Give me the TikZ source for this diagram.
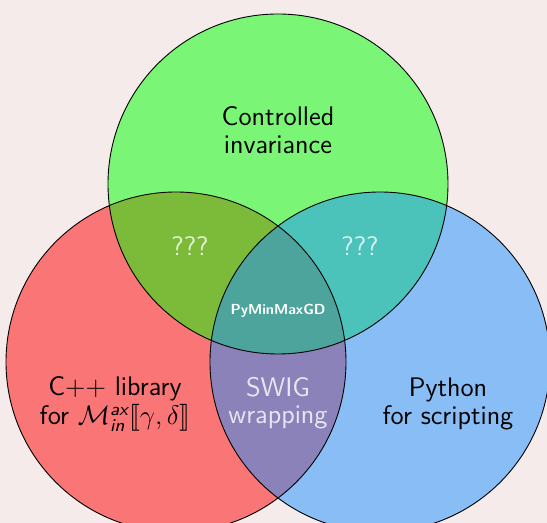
\documentclass[tikz,border=0pt]{standalone}
\usepackage{amsmath, amssymb}
\usepackage{stmaryrd}
\usepackage{tikz}
\renewcommand{\familydefault}{\sfdefault}
\definecolor{slidebg}{RGB}{246,235,235}
\definecolor{pyblue}{RGB}{30,144,255}
\tikzset{
  setlabel/.style={align=center, font=\fontsize{12}{12.3}\selectfont},
  meetlabel/.style={setlabel, text=white, text opacity=0.8}
}

\begin{document}
\begin{tikzpicture}[x=0.447pt,y=0.447pt]
% Slide background
\fill[slidebg] (0,0) rectangle (547,523);
\useasboundingbox (0,0) rectangle (547,523);
\clip (0,0) rectangle (547,523);

% Three sets
\fill[red, fill opacity=0.5] (176,161) circle (170);
\fill[green, fill opacity=0.5] (278,339) circle (170);
\fill[pyblue, fill opacity=0.5] (380,161) circle (170);

% Outlines
\draw (176,161) circle (170);
\draw (278,339) circle (170);
\draw (380,161) circle (170);

% Set labels
\node[setlabel] (ctrl) at (278,393) {Controlled\\invariance};
\node[setlabel] (cpp) at (115,119) {C++ library\\[1pt]for $\mathcal{M}^{\textsf{\itshape ax}}_{\textsf{\itshape in}}\llbracket\gamma,\delta\rrbracket$};
\node[setlabel] (py) at (448,119) {Python\\for scripting};

% Intersections
\node[meetlabel] (qleft) at (190,277) {???};
\node[meetlabel] (qright) at (360,277) {???};
\node[meetlabel] (swig) at (278,120) {SWIG\\wrapping};
\node[font=\fontsize{6.5}{7}\selectfont\bfseries, text=white] (core) at (278,212) {PyMinMaxGD};
\end{tikzpicture}
\end{document}
